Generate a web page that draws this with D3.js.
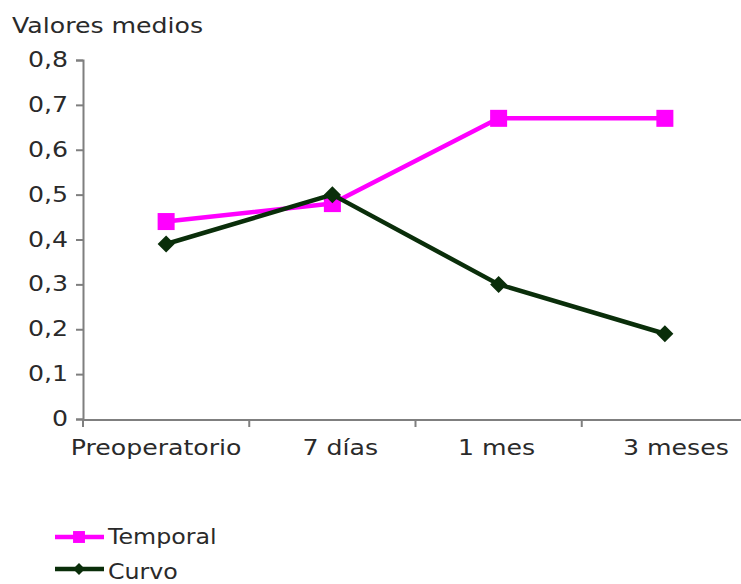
<!DOCTYPE html>
<html>
<head>
<meta charset="utf-8">
<script src="https://cdn.jsdelivr.net/npm/d3@7"></script>
<style>
  html, body { margin: 0; padding: 0; background: #fff; }
  svg text { font-family: "DejaVu Sans", Verdana, sans-serif; fill: #2a2a2a; }
</style>
</head>
<body>
<svg id="chart" width="741" height="584"></svg>
<script>
// Data
const categories = ["Preoperatorio", "7 días", "1 mes", "3 meses"];
const temporalValues = [0.44, 0.48, 0.67, 0.67];
const curvoValues = [0.39, 0.50, 0.30, 0.19];
const yTicks = [0, 0.1, 0.2, 0.3, 0.4, 0.5, 0.6, 0.7, 0.8];
const seriesNames = ["Temporal", "Curvo"];

const series = [
  { name: seriesNames[0], values: temporalValues, color: "#ff00ff", marker: "square" },
  { name: seriesNames[1], values: curvoValues, color: "#0a2e0a", marker: "diamond" }
];

const svg = d3.select("#chart");
const fontSize = 21;
const stretch = 1.2;   // wide lettering

// text helper: horizontally widened label anchored at (x, y)
function label(parent, x, y, str, anchor, sx) {
  return parent.append("text")
    .attr("transform", `translate(${x},${y}) scale(${sx || stretch},1)`)
    .attr("text-anchor", anchor || "start")
    .style("font-size", fontSize + "px")
    .text(str);
}

const x = d3.scaleBand().domain(categories).range([83, 748]);
const y = d3.scaleLinear().domain([0, 0.8]).range([419, 60]);

const fmt = v => v === 0 ? "0" : d3.format(".1f")(v).replace(".", ",");

// Y axis
const yAxis = svg.append("g")
  .attr("transform", "translate(83,0)")
  .call(d3.axisLeft(y).tickValues(yTicks).tickFormat("").tickSize(7));
yAxis.select(".domain").attr("stroke", "#7f7f7f").attr("stroke-width", 2);
yAxis.selectAll(".tick line").attr("stroke", "#7f7f7f").attr("stroke-width", 2);
yTicks.forEach(t => label(svg, 68, y(t) + 7, fmt(t), "end"));

// X axis with tick marks at band boundaries
const xAxisG = svg.append("g").attr("transform", "translate(0,420)");
xAxisG.append("line")
  .attr("x1", 82).attr("x2", 748)
  .attr("stroke", "#7f7f7f").attr("stroke-width", 2);
xAxisG.selectAll("line.tk").data(categories).join("line")
  .attr("class", "tk")
  .attr("x1", d => x(d)).attr("x2", d => x(d))
  .attr("y1", 0).attr("y2", 7)
  .attr("stroke", "#7f7f7f").attr("stroke-width", 2);
const labelShift = [-10, 8, -2, 11];
categories.forEach((c, i) => {
  label(xAxisG, x(c) + x.bandwidth() / 2 + labelShift[i], 35, c, "middle");
});

// Axis title
label(svg, 12, 33, "Valores medios");

const cx = c => x(c) + x.bandwidth() / 2;

function drawMarker(g, type, color) {
  if (type === "square") {
    g.append("rect").attr("x", -8.5).attr("y", -8.5).attr("width", 17).attr("height", 17).attr("fill", color);
  } else {
    g.append("path").attr("d", "M0,-8.5L8.5,0L0,8.5L-8.5,0Z").attr("fill", color);
  }
}

const line = d3.line().x((d, i) => cx(categories[i])).y(d => y(d));

series.forEach(s => {
  svg.append("path")
    .datum(s.values)
    .attr("d", line)
    .attr("fill", "none")
    .attr("stroke", s.color)
    .attr("stroke-width", 4.5)
    .attr("stroke-linejoin", "round");
  s.values.forEach((v, i) => {
    const g = svg.append("g").attr("transform", `translate(${cx(categories[i])},${y(v)})`);
    drawMarker(g, s.marker, s.color);
  });
});

// Legend
const legendRows = [537, 569];
const legendTextDy = [7, 10];
series.forEach((s, i) => {
  const row = svg.append("g").attr("transform", `translate(55,${legendRows[i]})`);
  row.append("line").attr("x1", 0).attr("x2", 49).attr("stroke", s.color).attr("stroke-width", 4.5);
  const m = row.append("g").attr("transform", "translate(24,0) scale(0.7)");
  drawMarker(m, s.marker, s.color);
  label(row, 53, legendTextDy[i], s.name, "start", 1.13);
});
</script>
</body>
</html>
